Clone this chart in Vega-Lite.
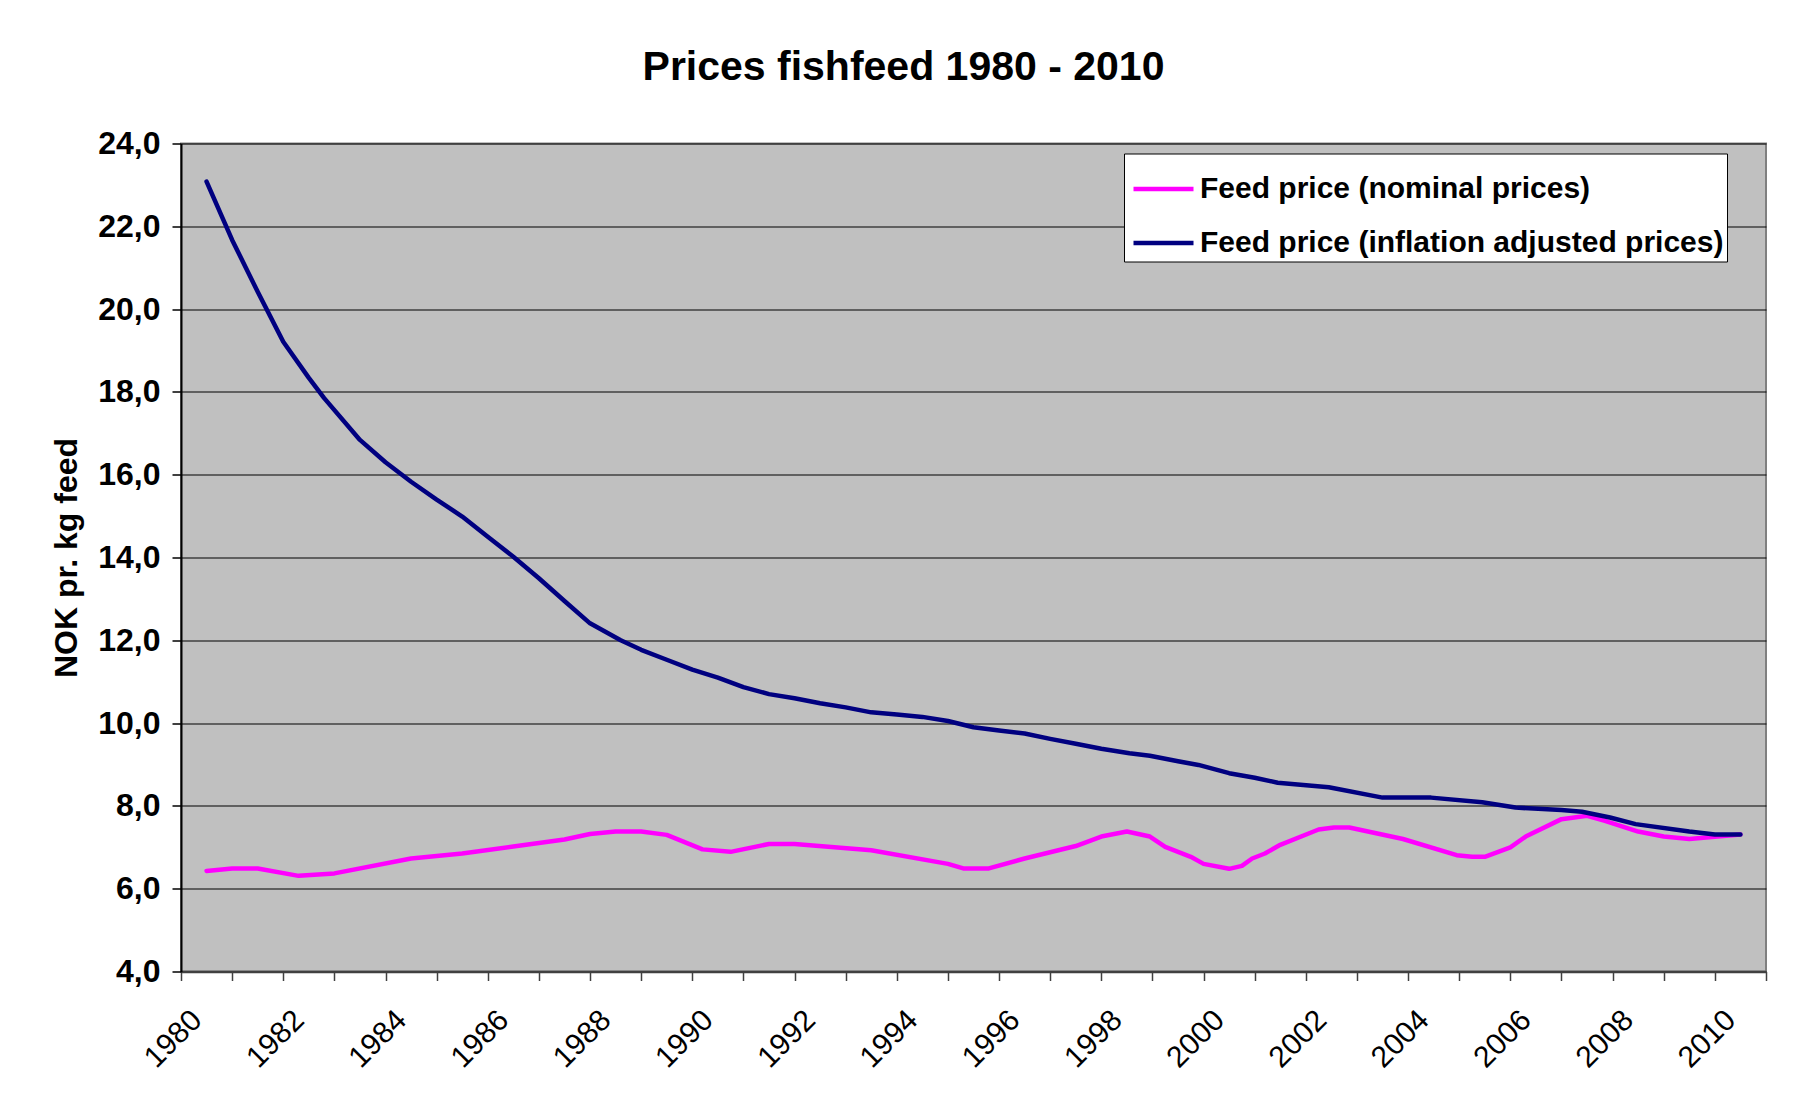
{
  "$schema": "https://vega.github.io/schema/vega-lite/v6.json",
  "width": 1585,
  "height": 828,
  "autosize": {"type": "none"},
  "padding": {"left": 181, "top": 143.5, "right": 29, "bottom": 134.5},
  "background": "white",
  "title": {
    "text": "Prices fishfeed 1980 - 2010",
    "fontSize": 41,
    "fontWeight": "bold",
    "font": "Liberation Sans",
    "color": "black",
    "anchor": "middle",
    "frame": "group",
    "dx": -70,
    "baseline": "alphabetic",
    "offset": 7
  },
  "config": {
    "view": {"fill": "#C0C0C0", "stroke": "#808080", "strokeWidth": 2},
    "font": "Liberation Sans"
  },
  "data": {
    "values": [
      {"series": "Feed price (nominal prices)", "year": 1980.5, "price": 6.43},
      {"series": "Feed price (nominal prices)", "year": 1981.0, "price": 6.49},
      {"series": "Feed price (nominal prices)", "year": 1981.5, "price": 6.49},
      {"series": "Feed price (nominal prices)", "year": 1982.3, "price": 6.31},
      {"series": "Feed price (nominal prices)", "year": 1983.0, "price": 6.37},
      {"series": "Feed price (nominal prices)", "year": 1984.5, "price": 6.73},
      {"series": "Feed price (nominal prices)", "year": 1985.5, "price": 6.85},
      {"series": "Feed price (nominal prices)", "year": 1986.5, "price": 7.02},
      {"series": "Feed price (nominal prices)", "year": 1987.5, "price": 7.19},
      {"series": "Feed price (nominal prices)", "year": 1988.0, "price": 7.32},
      {"series": "Feed price (nominal prices)", "year": 1988.5, "price": 7.38},
      {"series": "Feed price (nominal prices)", "year": 1989.0, "price": 7.38},
      {"series": "Feed price (nominal prices)", "year": 1989.5, "price": 7.30},
      {"series": "Feed price (nominal prices)", "year": 1990.2, "price": 6.95},
      {"series": "Feed price (nominal prices)", "year": 1990.75, "price": 6.89},
      {"series": "Feed price (nominal prices)", "year": 1991.5, "price": 7.08},
      {"series": "Feed price (nominal prices)", "year": 1992.0, "price": 7.08},
      {"series": "Feed price (nominal prices)", "year": 1993.5, "price": 6.93},
      {"series": "Feed price (nominal prices)", "year": 1995.0, "price": 6.60},
      {"series": "Feed price (nominal prices)", "year": 1995.3, "price": 6.49},
      {"series": "Feed price (nominal prices)", "year": 1995.8, "price": 6.49},
      {"series": "Feed price (nominal prices)", "year": 1996.5, "price": 6.73},
      {"series": "Feed price (nominal prices)", "year": 1997.5, "price": 7.03},
      {"series": "Feed price (nominal prices)", "year": 1998.0, "price": 7.26},
      {"series": "Feed price (nominal prices)", "year": 1998.5, "price": 7.38},
      {"series": "Feed price (nominal prices)", "year": 1998.95, "price": 7.26},
      {"series": "Feed price (nominal prices)", "year": 1999.25, "price": 7.01},
      {"series": "Feed price (nominal prices)", "year": 1999.75, "price": 6.77},
      {"series": "Feed price (nominal prices)", "year": 2000.0, "price": 6.60},
      {"series": "Feed price (nominal prices)", "year": 2000.5, "price": 6.48},
      {"series": "Feed price (nominal prices)", "year": 2000.75, "price": 6.55},
      {"series": "Feed price (nominal prices)", "year": 2000.95, "price": 6.73},
      {"series": "Feed price (nominal prices)", "year": 2001.2, "price": 6.85},
      {"series": "Feed price (nominal prices)", "year": 2001.5, "price": 7.06},
      {"series": "Feed price (nominal prices)", "year": 2002.25, "price": 7.43},
      {"series": "Feed price (nominal prices)", "year": 2002.55, "price": 7.48},
      {"series": "Feed price (nominal prices)", "year": 2002.85, "price": 7.48},
      {"series": "Feed price (nominal prices)", "year": 2003.9, "price": 7.20},
      {"series": "Feed price (nominal prices)", "year": 2004.95, "price": 6.81},
      {"series": "Feed price (nominal prices)", "year": 2005.25, "price": 6.77},
      {"series": "Feed price (nominal prices)", "year": 2005.5, "price": 6.77},
      {"series": "Feed price (nominal prices)", "year": 2006.0, "price": 7.00},
      {"series": "Feed price (nominal prices)", "year": 2006.3, "price": 7.26},
      {"series": "Feed price (nominal prices)", "year": 2007.0, "price": 7.68},
      {"series": "Feed price (nominal prices)", "year": 2007.5, "price": 7.76},
      {"series": "Feed price (nominal prices)", "year": 2007.85, "price": 7.64},
      {"series": "Feed price (nominal prices)", "year": 2008.5, "price": 7.38},
      {"series": "Feed price (nominal prices)", "year": 2009.0, "price": 7.26},
      {"series": "Feed price (nominal prices)", "year": 2009.5, "price": 7.20},
      {"series": "Feed price (nominal prices)", "year": 2010.5, "price": 7.31},
      {"series": "Feed price (inflation adjusted prices)", "year": 1980.5, "price": 23.08},
      {"series": "Feed price (inflation adjusted prices)", "year": 1981.0, "price": 21.67},
      {"series": "Feed price (inflation adjusted prices)", "year": 1981.5, "price": 20.42},
      {"series": "Feed price (inflation adjusted prices)", "year": 1982.0, "price": 19.21},
      {"series": "Feed price (inflation adjusted prices)", "year": 1982.5, "price": 18.34},
      {"series": "Feed price (inflation adjusted prices)", "year": 1982.8, "price": 17.85},
      {"series": "Feed price (inflation adjusted prices)", "year": 1983.5, "price": 16.84},
      {"series": "Feed price (inflation adjusted prices)", "year": 1984.0, "price": 16.30},
      {"series": "Feed price (inflation adjusted prices)", "year": 1984.5, "price": 15.83},
      {"series": "Feed price (inflation adjusted prices)", "year": 1985.0, "price": 15.40},
      {"series": "Feed price (inflation adjusted prices)", "year": 1985.5, "price": 14.99},
      {"series": "Feed price (inflation adjusted prices)", "year": 1986.0, "price": 14.50},
      {"series": "Feed price (inflation adjusted prices)", "year": 1986.5, "price": 14.02},
      {"series": "Feed price (inflation adjusted prices)", "year": 1987.0, "price": 13.50},
      {"series": "Feed price (inflation adjusted prices)", "year": 1987.5, "price": 12.95},
      {"series": "Feed price (inflation adjusted prices)", "year": 1988.0, "price": 12.41},
      {"series": "Feed price (inflation adjusted prices)", "year": 1988.6, "price": 12.00},
      {"series": "Feed price (inflation adjusted prices)", "year": 1989.0, "price": 11.77},
      {"series": "Feed price (inflation adjusted prices)", "year": 1989.5, "price": 11.53},
      {"series": "Feed price (inflation adjusted prices)", "year": 1990.0, "price": 11.29},
      {"series": "Feed price (inflation adjusted prices)", "year": 1990.5, "price": 11.10},
      {"series": "Feed price (inflation adjusted prices)", "year": 1991.0, "price": 10.87},
      {"series": "Feed price (inflation adjusted prices)", "year": 1991.5, "price": 10.70},
      {"series": "Feed price (inflation adjusted prices)", "year": 1992.0, "price": 10.60},
      {"series": "Feed price (inflation adjusted prices)", "year": 1992.5, "price": 10.48},
      {"series": "Feed price (inflation adjusted prices)", "year": 1993.0, "price": 10.38},
      {"series": "Feed price (inflation adjusted prices)", "year": 1993.5, "price": 10.26},
      {"series": "Feed price (inflation adjusted prices)", "year": 1994.0, "price": 10.21},
      {"series": "Feed price (inflation adjusted prices)", "year": 1994.5, "price": 10.15},
      {"series": "Feed price (inflation adjusted prices)", "year": 1995.0, "price": 10.05},
      {"series": "Feed price (inflation adjusted prices)", "year": 1995.5, "price": 9.90},
      {"series": "Feed price (inflation adjusted prices)", "year": 1996.0, "price": 9.82},
      {"series": "Feed price (inflation adjusted prices)", "year": 1996.5, "price": 9.75},
      {"series": "Feed price (inflation adjusted prices)", "year": 1997.0, "price": 9.62},
      {"series": "Feed price (inflation adjusted prices)", "year": 1997.5, "price": 9.50},
      {"series": "Feed price (inflation adjusted prices)", "year": 1998.0, "price": 9.38},
      {"series": "Feed price (inflation adjusted prices)", "year": 1998.55, "price": 9.27},
      {"series": "Feed price (inflation adjusted prices)", "year": 1998.95, "price": 9.21},
      {"series": "Feed price (inflation adjusted prices)", "year": 1999.5, "price": 9.08},
      {"series": "Feed price (inflation adjusted prices)", "year": 1999.9, "price": 8.99},
      {"series": "Feed price (inflation adjusted prices)", "year": 2000.5, "price": 8.79},
      {"series": "Feed price (inflation adjusted prices)", "year": 2001.0, "price": 8.68},
      {"series": "Feed price (inflation adjusted prices)", "year": 2001.45, "price": 8.56},
      {"series": "Feed price (inflation adjusted prices)", "year": 2002.45, "price": 8.45},
      {"series": "Feed price (inflation adjusted prices)", "year": 2003.5, "price": 8.20},
      {"series": "Feed price (inflation adjusted prices)", "year": 2004.45, "price": 8.20},
      {"series": "Feed price (inflation adjusted prices)", "year": 2005.45, "price": 8.09},
      {"series": "Feed price (inflation adjusted prices)", "year": 2006.1, "price": 7.96},
      {"series": "Feed price (inflation adjusted prices)", "year": 2007.0, "price": 7.90},
      {"series": "Feed price (inflation adjusted prices)", "year": 2007.4, "price": 7.86},
      {"series": "Feed price (inflation adjusted prices)", "year": 2007.95, "price": 7.72},
      {"series": "Feed price (inflation adjusted prices)", "year": 2008.45, "price": 7.56},
      {"series": "Feed price (inflation adjusted prices)", "year": 2009.5, "price": 7.38},
      {"series": "Feed price (inflation adjusted prices)", "year": 2010.0, "price": 7.31},
      {"series": "Feed price (inflation adjusted prices)", "year": 2010.5, "price": 7.31}
    ]
  },
  "mark": {"type": "line", "strokeWidth": 4.5, "interpolate": "linear", "strokeJoin": "round", "strokeCap": "round"},
  "encoding": {
    "x": {
      "field": "year",
      "type": "quantitative",
      "scale": {"domain": [1980, 2011], "nice": false, "zero": false},
      "axis": {
        "title": null,
        "values": [1980, 1981, 1982, 1983, 1984, 1985, 1986, 1987, 1988, 1989, 1990, 1991, 1992, 1993, 1994, 1995, 1996, 1997, 1998, 1999, 2000, 2001, 2002, 2003, 2004, 2005, 2006, 2007, 2008, 2009, 2010, 2011],
        "labelExpr": "(datum.value % 2 == 0 && datum.value <= 2010) ? '' + datum.value : ''",
        "labelAngle": -45,
        "labelAlign": "right",
        "labelBaseline": "top",
        "labelFontSize": 30,
        "labelFont": "Liberation Sans",
        "labelColor": "black",
        "labelOffset": 5,
        "labelPadding": 24,
        "labelOverlap": false,
        "labelBound": false,
        "labelFlush": false,
        "tickSize": 9,
        "tickColor": "#404040",
        "tickWidth": 1.5,
        "domainColor": "#404040",
        "domainWidth": 2.5,
        "grid": false
      }
    },
    "y": {
      "field": "price",
      "type": "quantitative",
      "scale": {"domain": [4, 24], "nice": false, "zero": false},
      "axis": {
        "title": "NOK pr. kg feed",
        "titleFontSize": 32,
        "titleFontWeight": "bold",
        "titleFont": "Liberation Sans",
        "titleColor": "black",
        "titlePadding": 14,
        "values": [4, 6, 8, 10, 12, 14, 16, 18, 20, 22, 24],
        "labelExpr": "replace(format(datum.value, '.1f'), '.', ',')",
        "labelFontSize": 32,
        "labelFontWeight": "bold",
        "labelFont": "Liberation Sans",
        "labelColor": "black",
        "labelPadding": 12,
        "labelFlush": false,
        "labelOverlap": false,
        "tickSize": 9,
        "tickColor": "black",
        "tickWidth": 1.5,
        "domainColor": "black",
        "domainWidth": 2,
        "grid": true,
        "gridColor": "black",
        "gridWidth": 1.2,
        "gridOpacity": 1
      }
    },
    "color": {
      "field": "series",
      "type": "nominal",
      "sort": null,
      "scale": {
        "domain": ["Feed price (nominal prices)", "Feed price (inflation adjusted prices)"],
        "range": ["#FF00FF", "#000080"]
      },
      "legend": {
        "title": null,
        "orient": "none",
        "legendX": 943,
        "legendY": 10,
        "direction": "vertical",
        "fillColor": "white",
        "strokeColor": "black",
        "padding": 3,
        "rowPadding": 6,
        "symbolType": "stroke",
        "symbolSize": 3600,
        "symbolStrokeWidth": 4.5,
        "symbolOffset": 4,
        "labelFontSize": 30,
        "labelFontWeight": "bold",
        "labelFont": "Liberation Sans",
        "labelColor": "black",
        "labelLimit": 900,
        "labelOffset": 4
      }
    }
  }
}
